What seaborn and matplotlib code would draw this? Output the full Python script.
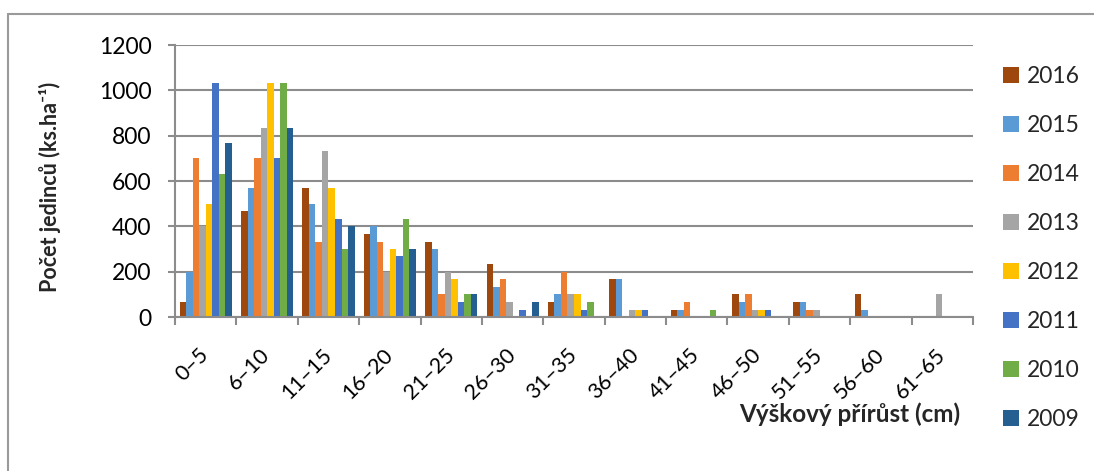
import numpy as np
import pandas as pd
import matplotlib
matplotlib.use("Agg")
import matplotlib.pyplot as plt
from matplotlib.lines import Line2D
import seaborn as sns

# Height increment classes (cm)
classes = ['0–5', '6–10', '11–15', '16–20', '21–25', '26–30', '31–35',
           '36–40', '41–45', '46–50', '51–55', '56–60', '61–65']

# Number of individuals per hectare for each year
y2016 = [67, 467, 567, 367, 333, 233, 67, 167, 33, 100, 67, 100, 0]
y2015 = [200, 567, 500, 400, 300, 133, 100, 167, 33, 67, 67, 33, 0]
y2014 = [700, 700, 333, 333, 100, 167, 200, 0, 67, 100, 33, 0, 0]
y2013 = [400, 833, 733, 200, 200, 67, 100, 33, 0, 33, 33, 0, 100]
y2012 = [500, 1033, 567, 300, 167, 0, 100, 33, 0, 33, 0, 0, 0]
y2011 = [1033, 700, 433, 267, 67, 33, 33, 33, 0, 33, 0, 0, 0]
y2010 = [633, 1033, 300, 433, 100, 0, 67, 0, 33, 0, 0, 0, 0]
y2009 = [767, 833, 400, 300, 100, 67, 0, 0, 0, 0, 0, 0, 0]

years = ['2016', '2015', '2014', '2013', '2012', '2011', '2010', '2009']
series = [y2016, y2015, y2014, y2013, y2012, y2011, y2010, y2009]
colors = ['#9E480E', '#5B9BD5', '#ED7D31', '#A5A5A5',
          '#FFC000', '#4472C4', '#70AD47', '#255E91']

df = pd.DataFrame({
    'trida': np.tile(classes, len(years)),
    'rok': np.repeat(years, len(classes)),
    'pocet': np.concatenate(series),
})

sns.set_theme(style='white')
plt.rcParams['font.family'] = ['Lato', 'DejaVu Sans']

grid_col = '#8C8C8C'

fig = plt.figure(figsize=(10.94, 4.71), dpi=100)
ax = fig.add_axes([175 / 1094, 1 - 317 / 471, (973 - 175) / 1094, (317 - 45) / 471])

sns.barplot(data=df, x='trida', y='pocet', hue='rok', order=classes,
            hue_order=years, palette=colors, width=0.85, saturation=1,
            linewidth=0, ax=ax)

ax.set_ylim(0, 1200)
ax.set_xlim(-0.5, len(classes) - 0.5)
ax.set_yticks(np.arange(0, 1201, 200))
ax.yaxis.grid(True, color=grid_col, linewidth=1.5)
ax.set_axisbelow(True)

for side in ['top', 'right']:
    ax.spines[side].set_visible(False)
for side in ['left', 'bottom']:
    ax.spines[side].set_color(grid_col)
    ax.spines[side].set_linewidth(1.5)

ax.tick_params(axis='y', which='major', left=True, length=5, width=1.5,
               color=grid_col, pad=12, labelsize=16.5, labelcolor='black')

# category separators as minor ticks on the x axis
ax.set_xticks(np.arange(-0.5, len(classes), 1), minor=True)
ax.tick_params(axis='x', which='minor', bottom=True, length=6, width=1.5,
               color=grid_col)
ax.tick_params(axis='x', which='major', bottom=False, length=0, pad=25,
               labelsize=15.5, labelcolor='black')
for lbl in ax.get_xticklabels():
    lbl.set_rotation(45)
    lbl.set_ha('right')
    lbl.set_va('center')
    lbl.set_rotation_mode('anchor')

ax.set_xlabel('')
ax.set_ylabel('')

fig.text(0.046, 1 - 187 / 471, 'Počet jedinců (ks.ha⁻¹)', rotation=90,
         ha='center', va='center', fontsize=15.5, fontweight='bold')
fig.text(960 / 1094, 1 - 414 / 471, 'Výškový přírůst (cm)', ha='right',
         va='center', fontsize=17.5, fontweight='bold')

handles, labels = ax.get_legend_handles_labels()
ax.get_legend().remove()
fig.legend(handles, labels, loc='upper left',
           bbox_to_anchor=(1003 / 1094, 1 - 66 / 471), frameon=False,
           fontsize=16.5, handlelength=0.7, handleheight=0.7,
           handletextpad=0.35, labelspacing=1.22, borderpad=0,
           borderaxespad=0)

# chart frame (left and top edges)
fig.add_artist(Line2D([8 / 1094, 8 / 1094], [0, 1 - 14 / 471],
                      color='#9A9A9A', linewidth=1.5,
                      transform=fig.transFigure))
fig.add_artist(Line2D([8 / 1094, 1], [1 - 14 / 471, 1 - 14 / 471],
                      color='#9A9A9A', linewidth=1.5,
                      transform=fig.transFigure))

fig.savefig('out.png', dpi=100)
